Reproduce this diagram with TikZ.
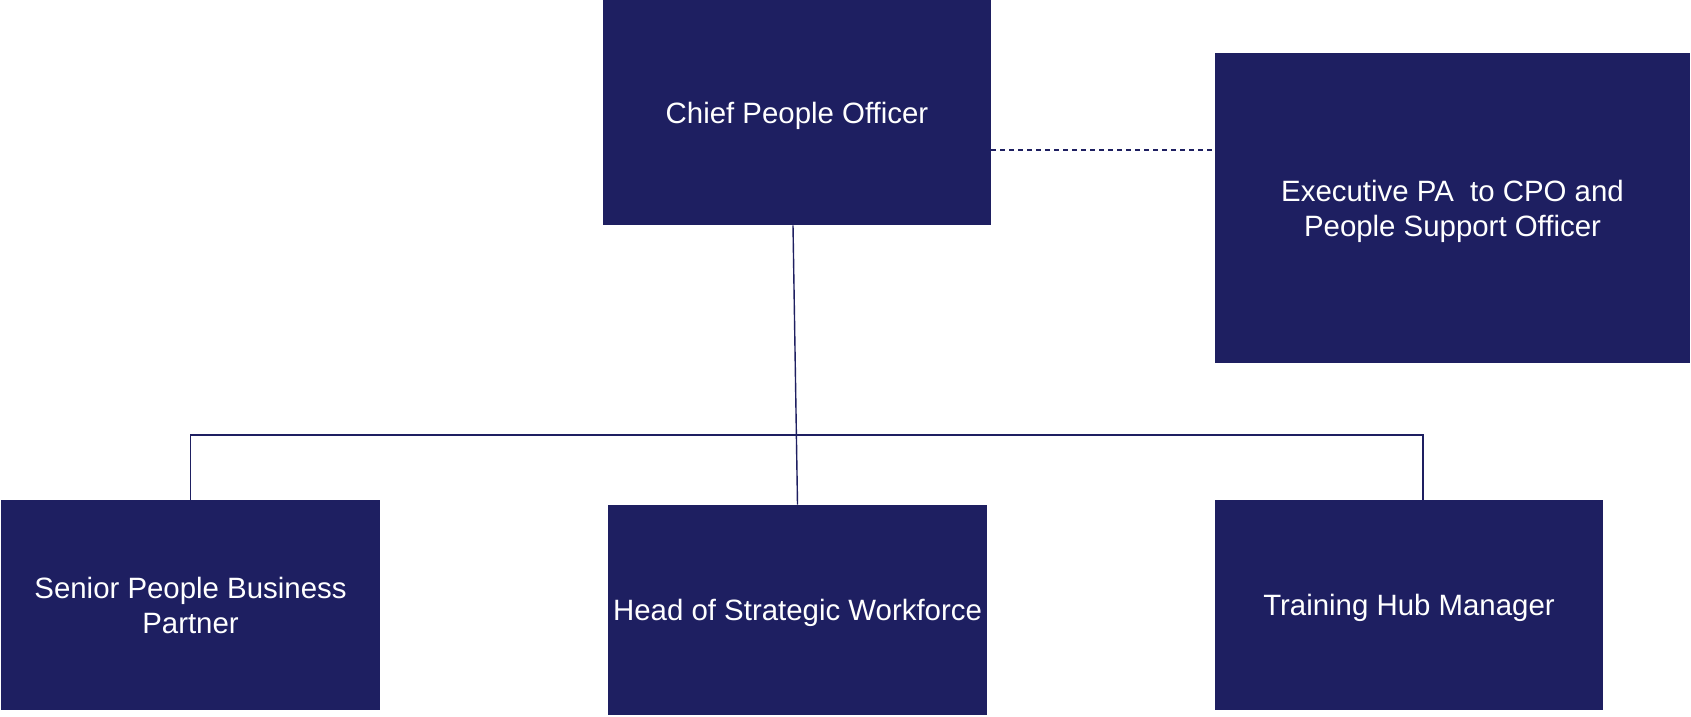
\documentclass[tikz,border=0pt]{standalone}
\usepackage{xcolor}
\usepackage{fontspec}
\setmainfont{Liberation Sans}
\usepackage{tikz}
\usetikzlibrary{positioning}

\definecolor{navy}{HTML}{1E1F61}

\begin{document}
\begin{tikzpicture}[x=0.5pt, y=-0.5pt,
        role/.style={draw=none, fill=navy, text=white, align=center, inner sep=0pt,
            text depth=0pt, font=\fontsize{14.7}{17.5}\selectfont},
        link/.style={draw=navy, line width=0.7pt}]
        \useasboundingbox (0,0) rectangle (1691,717);

        \node[role, minimum width=194pt, minimum height=112.5pt] (cpo) at (797,112.5) {Chief People Officer};
        \node[role, minimum width=237.5pt, minimum height=155pt] (pa) at (1452.5,208) {Executive PA\ \ to CPO and\\People Support Officer};
        \node[role, minimum width=189.5pt, minimum height=105pt] (spbp) at (190.5,605) {Senior People Business\\Partner};
        \node[role, minimum width=189.5pt, minimum height=105pt] (hsw) at (797.5,610) {Head of Strategic Workforce};
        \node[role, minimum width=194pt, minimum height=105pt] (thm) at (1409,605) {Training Hub Manager};

        \coordinate (bus) at (1423,435);
        \coordinate (dash) at (1215,150);

        \path[link]
        ([xshift=-2pt]cpo.south) edge (hsw.north)
        (spbp.north) edge [to path={|- (\tikztotarget) -- (bus |- thm.north)}] (bus);
        \draw[link, dash pattern=on 2.5pt off 2pt] (cpo.east |- dash) -- (dash);
\end{tikzpicture}
\end{document}
